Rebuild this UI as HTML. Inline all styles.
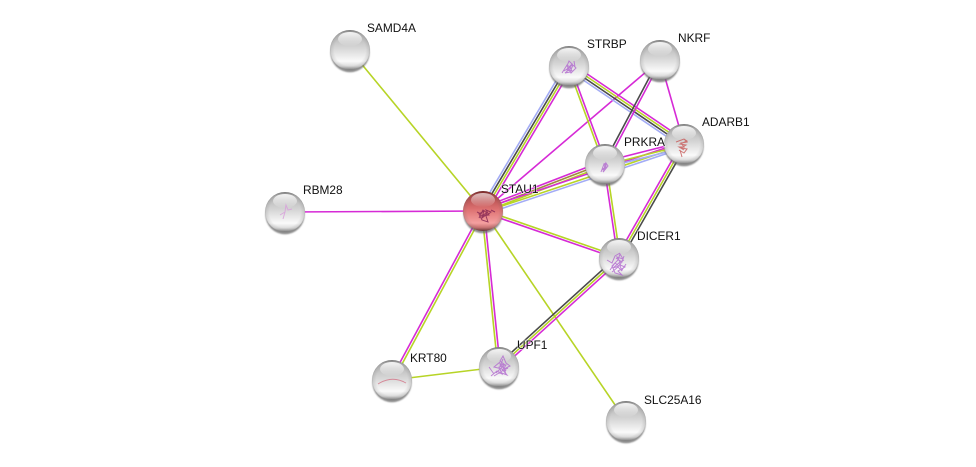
<!DOCTYPE html>
<html><head><meta charset="utf-8"><style>
html,body{margin:0;padding:0;background:#fff;width:976px;height:467px;overflow:hidden}
svg{display:block}
text{font-family:"Liberation Sans",sans-serif;font-size:11.9px;fill:#111;paint-order:stroke;stroke:#fff;stroke-width:1.5px;stroke-opacity:.6}
.m{stroke:#d62ad6}.g{stroke:#b7d426}.k{stroke:#4a4a4a}.b{stroke:#a3acf5}
#e line{stroke-width:1.6;fill:none}
.s{fill:none;stroke-width:1;filter:url(#bl);opacity:.85}
</style></head><body>
<svg width="976" height="467" viewBox="0 0 976 467" xmlns="http://www.w3.org/2000/svg">
<defs>
<filter id="bl" x="-20%" y="-20%" width="140%" height="140%"><feGaussianBlur stdDeviation=".35"/></filter>
<filter id="bs" x="-30%" y="-30%" width="160%" height="160%"><feGaussianBlur stdDeviation=".8"/></filter>
<linearGradient id="gr" x1="0" y1="0" x2="0" y2="1">
<stop offset="0" stop-color="#8a8a8a"/><stop offset=".1" stop-color="#b4b4b4"/><stop offset=".45" stop-color="#d6d6d6"/><stop offset=".78" stop-color="#fafafa"/><stop offset=".9" stop-color="#dcdcdc"/><stop offset="1" stop-color="#8a8a8a"/>
</linearGradient>
<linearGradient id="rd" x1="0" y1="0" x2="0" y2="1">
<stop offset="0" stop-color="#7e1f1f"/><stop offset=".12" stop-color="#b04a4a"/><stop offset=".45" stop-color="#dc7070"/><stop offset=".8" stop-color="#f5a0a0"/><stop offset=".92" stop-color="#c87070"/><stop offset="1" stop-color="#6e3030"/>
</linearGradient>
<radialGradient id="ed" cx=".5" cy=".5" r=".5">
<stop offset=".78" stop-color="#555" stop-opacity="0"/><stop offset=".95" stop-color="#555" stop-opacity=".14"/><stop offset="1" stop-color="#444" stop-opacity=".3"/>
</radialGradient>
<linearGradient id="hl" x1="0" y1="0" x2="0" y2="1">
<stop offset="0" stop-color="#fff" stop-opacity=".9"/><stop offset="1" stop-color="#fff" stop-opacity=".02"/>
</linearGradient>
<g id="n">
<circle cx="0" cy="2.6" r="19.6" fill="#666" opacity=".75" filter="url(#bs)"/>
<circle r="20" fill="url(#gr)"/><circle r="20" fill="url(#ed)"/>
<ellipse cx="0" cy="-11" rx="12" ry="7" fill="url(#hl)"/>
</g>
<g id="r">
<circle cx="0" cy="2.6" r="19.6" fill="#666" opacity=".75" filter="url(#bs)"/>
<circle r="20" fill="url(#rd)"/><circle r="20" fill="url(#ed)"/>
<ellipse cx="0" cy="-11" rx="12" ry="7" fill="url(#hl)" opacity=".75"/>
</g>
</defs>
<rect width="976" height="467" fill="#fff"/>
<g id="e">
<line class="g" x1="483" y1="211" x2="350" y2="50"/>
<line class="m" x1="483" y1="211" x2="285" y2="212"/>
<line class="g" x1="483" y1="211" x2="626" y2="421"/>
<line class="m" x1="483" y1="211" x2="660" y2="60"/>
<line class="g" x1="392" y1="380" x2="499" y2="367"/>
<line class="m" x1="660" y1="60" x2="684" y2="144"/>
<!-- STAU1-STRBP -->
<line class="b" x1="479.9" y1="209.2" x2="565.9" y2="64.2"/>
<line class="k" x1="482" y1="210.4" x2="568" y2="65.4"/>
<line class="g" x1="484" y1="211.6" x2="570" y2="66.6"/>
<line class="m" x1="486.1" y1="212.8" x2="572.1" y2="67.8"/>
<!-- STRBP-ADARB1 -->
<line class="m" x1="571" y1="63" x2="686" y2="141"/>
<line class="g" x1="569.7" y1="65" x2="684.7" y2="143"/>
<line class="k" x1="568.3" y1="67" x2="683.3" y2="145"/>
<line class="b" x1="567" y1="69" x2="682" y2="147"/>
<!-- STRBP-PRKRA -->
<line class="g" x1="567.9" y1="66.4" x2="603.9" y2="164.4"/>
<line class="m" x1="570.1" y1="65.6" x2="606.1" y2="163.6"/>
<!-- NKRF-PRKRA -->
<line class="k" x1="658.9" y1="59.4" x2="603.9" y2="163.4"/>
<line class="m" x1="661.1" y1="60.6" x2="606.1" y2="164.6"/>
<!-- STAU1-PRKRA -->
<line class="m" x1="481.8" y1="207.8" x2="603.8" y2="160.8"/>
<line x1="482.6" y1="210" x2="604.6" y2="163" style="stroke:#a08a40"/>
<line class="g" x1="483.5" y1="212.2" x2="605.5" y2="165.2"/>
<!-- STAU1-ADARB1 -->
<line class="m" x1="482.4" y1="209" x2="683.4" y2="142"/>
<line class="g" x1="483.5" y1="212.2" x2="684.5" y2="145.2"/>
<line class="b" x1="484.2" y1="214.4" x2="685.2" y2="147.4"/>
<!-- PRKRA-ADARB1 -->
<line class="m" x1="604.4" y1="161.6" x2="683.4" y2="141.6"/>
<line class="g" x1="605.2" y1="165" x2="684.2" y2="145"/>
<line class="b" x1="605.8" y1="167.4" x2="684.8" y2="147.4"/>
<!-- PRKRA-DICER1 -->
<line class="m" x1="603.8" y1="164" x2="617.8" y2="258"/>
<line class="g" x1="606.2" y1="164" x2="620.2" y2="258"/>
<!-- ADARB1-DICER1 -->
<line class="m" x1="681.9" y1="142.8" x2="616.9" y2="256.8"/>
<line class="g" x1="684" y1="144" x2="619" y2="258"/>
<line class="k" x1="686.1" y1="145.2" x2="621.1" y2="259.2"/>
<!-- STAU1-DICER1 -->
<line class="g" x1="483.4" y1="209.9" x2="619.4" y2="256.9"/>
<line class="m" x1="482.6" y1="212.1" x2="618.6" y2="259.1"/>
<!-- DICER1-UPF1 -->
<line class="k" x1="617.4" y1="256.2" x2="497.4" y2="365.2"/>
<line class="g" x1="619" y1="258" x2="499" y2="367"/>
<line class="m" x1="620.6" y1="259.8" x2="500.6" y2="368.8"/>
<!-- STAU1-KRT80 -->
<line class="m" x1="481.9" y1="210.4" x2="390.9" y2="379.4"/>
<line class="g" x1="484.1" y1="211.6" x2="393.1" y2="380.6"/>
<!-- STAU1-UPF1 -->
<line class="g" x1="481.8" y1="211" x2="497.8" y2="367"/>
<line class="m" x1="484.2" y1="211" x2="500.2" y2="367"/>
</g>
<use href="#n" x="350" y="50"/>
<use href="#n" x="569" y="66"/>
<use href="#n" x="660" y="60"/>
<use href="#n" x="684" y="144"/>
<use href="#n" x="605" y="164"/>
<use href="#n" x="619" y="258"/>
<use href="#n" x="285" y="212"/>
<use href="#n" x="392" y="380"/>
<use href="#n" x="499" y="367"/>
<use href="#n" x="626" y="421"/>
<use href="#r" x="483" y="211"/>
<!-- structures -->
<path class="s" stroke="#b46fd0" d="M562 73l5-8 4 3-6 5 5-1 3-7 3 3-5 5-4-7 2-5 3 3-5 5M564 71l6-4 2 4-5-1 6-6M574 61l1 6"/>
<path class="s" stroke="#b46fd0" d="M601 172l3-8 2 3-4 3 4-2 0-5 2 3-4 5 1-8 1 3-3 6M602 168l4 1"/>
<path class="s" stroke="#c9605f" stroke-width="1.4" d="M676 142l8-3 3 2-7 3 6 1-5 3 6 1-3 4-5-3M684 139l3 3-6 1 3 4-5 0 5 3M680 150l2 7"/>
<path class="s" stroke="#b46fd0" d="M610 270l5-7 4 3-6 2 7-6-3-5 6 2-3 6 5 2-7 4 4 4-7-2-3-7 6-6 2-6 3 5M607 260l5 3 3-7 5-3M622 270l4-6M612 272l6-5 4 4-3-8 5-3M616 258l6 4 2-6"/>
<path class="s" stroke="#b46fd0" d="M491 376l6-5 5 3-3-7 6-2-5-4 3-5 3 7 4 3-6 3 2 5-7-1-5 3M500 362l-6 5 8 2 5 6-8-3M489 367l5 7M496 373l7-7 3 5-6-7 6 1-4 6 6-3M503 359l-3 7"/>
<path class="s" stroke="#8a2a55" stroke-width="1.4" d="M479 218l4-8 4 3-6 3 8-1-3-5 5 2-5 4 2 6-6-2-3-6 5-3M477 212l4 2M491 210l4 2M484 210l-2 8 5-4"/>
<path class="s" stroke="#d9a0dc" d="M280 215l5-3 1-7 2 5 4-1M285 212l-2 7"/>
<path class="s" stroke="#d47a8c" d="M378 384q14-9 28-1"/>
<text x="367" y="32">SAMD4A</text>
<text x="587" y="48">STRBP</text>
<text x="678" y="42">NKRF</text>
<text x="702" y="126">ADARB1</text>
<text x="624" y="146">PRKRA</text>
<text x="501" y="193">STAU1</text>
<text x="637" y="240">DICER1</text>
<text x="303" y="194">RBM28</text>
<text x="410" y="362">KRT80</text>
<text x="517" y="349">UPF1</text>
<text x="644" y="404">SLC25A16</text>
</svg>
</body></html>
